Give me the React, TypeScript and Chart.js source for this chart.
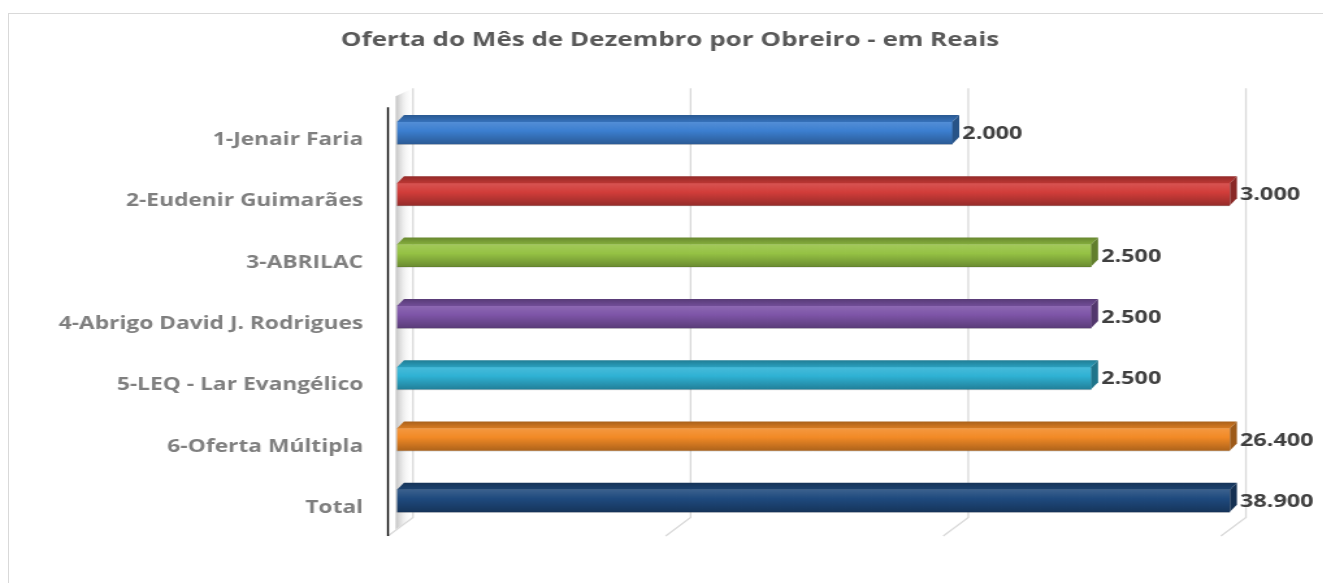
import React, { useEffect, useRef } from 'react';
import { Chart, registerables } from 'chart.js';

Chart.register(...registerables);

const categories = [
  '1-Jenair Faria',
  '2-Eudenir Guimarães',
  '3-ABRILAC',
  '4-Abrigo David J. Rodrigues',
  '5-LEQ - Lar Evangélico',
  '6-Oferta Múltipla',
  'Total',
];
const values = [2000, 3000, 2500, 2500, 2500, 26400, 38900];
const axisTicks = [0, 1000, 2000, 3000];
const barColors = ['#3c7fd0', '#d23d3a', '#95c244', '#7e55a8', '#2fb2d4', '#f28a26', '#1f4a7e'];
const titleText = 'Oferta do Mês de Dezembro por Obreiro - em Reais';

// The reference is a horizontally stretched picture: draw on a narrower bitmap
// and let CSS stretch it to the displayed width.
const CSS_W = 1322;
const CSS_H = 569;
const STRETCH = 1.3;
const BMP_W = Math.round(CSS_W / STRETCH);

const DX = 7 / STRETCH; // 3D depth, horizontal
const DY = 7; // 3D depth, vertical
const FONT = '"Open Sans", "DejaVu Sans", sans-serif';

function shade(hex: string, f: number): string {
  const n = parseInt(hex.slice(1), 16);
  let r = (n >> 16) & 255;
  let g = (n >> 8) & 255;
  let b = n & 255;
  if (f >= 0) {
    r = r + (255 - r) * f;
    g = g + (255 - g) * f;
    b = b + (255 - b) * f;
  } else {
    r = r * (1 + f);
    g = g * (1 + f);
    b = b * (1 + f);
  }
  return `rgb(${Math.round(r)},${Math.round(g)},${Math.round(b)})`;
}

function fmt(v: number): string {
  return String(v).replace(/\B(?=(\d{3})+(?!\d))/g, '.');
}

const bar3d = {
  id: 'bar3d',
  beforeDatasetsDraw(chart: any) {
    const { ctx, chartArea: a } = chart;
    const xs = chart.scales.x;
    const x0 = xs.getPixelForValue(0);
    const back = 16 / STRETCH;
    const front = 9 / STRETCH;
    ctx.save();
    // left wall shading
    const wg = ctx.createLinearGradient(x0 - 1, 0, x0 + back, 0);
    wg.addColorStop(0, 'rgba(170,170,170,0.7)');
    wg.addColorStop(0.55, 'rgba(225,225,225,0.4)');
    wg.addColorStop(1, 'rgba(255,255,255,0)');
    ctx.fillStyle = wg;
    ctx.beginPath();
    ctx.moveTo(x0 - 1, a.top - 6);
    ctx.lineTo(x0 + back, a.top - 14);
    ctx.lineTo(x0 + back, a.bottom - 14);
    ctx.lineTo(x0 - 1, a.bottom - 2);
    ctx.closePath();
    ctx.fill();
    // grid lines (back wall + floor)
    ctx.strokeStyle = '#d9d9d9';
    ctx.lineWidth = 1.3;
    axisTicks.forEach((t) => {
      const xp = xs.getPixelForValue(t);
      ctx.beginPath();
      ctx.moveTo(xp + back, a.top - 14);
      ctx.lineTo(xp + back, a.bottom - 14);
      ctx.lineTo(xp - front, a.bottom + 4.5);
      ctx.stroke();
    });
    // axis line
    ctx.strokeStyle = '#000';
    ctx.lineWidth = 1.4;
    ctx.beginPath();
    ctx.moveTo(x0 - front, a.top + 5);
    ctx.lineTo(x0 - front, a.bottom + 4.5);
    ctx.stroke();
    ctx.restore();
  },
  afterDatasetsDraw(chart: any) {
    const { ctx, chartArea: a } = chart;
    const meta = chart.getDatasetMeta(0);
    const vals = chart.data.datasets[0].data as number[];
    ctx.save();
    meta.data.forEach((bar: any, i: number) => {
      const { x, y, base, height } = bar.getProps(['x', 'y', 'base', 'height'], true);
      if (![x, y, base, height].every((v) => Number.isFinite(v))) return;
      const end = Math.min(x, a.right);
      const top = y - height / 2;
      const bot = y + height / 2;
      const c = barColors[i];
      // top face
      const tg = ctx.createLinearGradient(0, top - DY, 0, top);
      tg.addColorStop(0, shade(c, -0.3));
      tg.addColorStop(1, shade(c, -0.1));
      ctx.fillStyle = tg;
      ctx.beginPath();
      ctx.moveTo(base, top);
      ctx.lineTo(base + DX, top - DY);
      ctx.lineTo(end + DX, top - DY);
      ctx.lineTo(end, top);
      ctx.closePath();
      ctx.fill();
      // side face
      ctx.fillStyle = shade(c, -0.35);
      ctx.beginPath();
      ctx.moveTo(end, top);
      ctx.lineTo(end + DX, top - DY);
      ctx.lineTo(end + DX, bot - DY);
      ctx.lineTo(end, bot);
      ctx.closePath();
      ctx.fill();
      // bottom shadow line
      ctx.strokeStyle = 'rgba(0,0,0,0.15)';
      ctx.lineWidth = 1;
      ctx.beginPath();
      ctx.moveTo(base, bot + 0.5);
      ctx.lineTo(end, bot + 0.5);
      ctx.stroke();
      // value label
      ctx.fillStyle = '#404040';
      ctx.font = `bold 18px ${FONT}`;
      ctx.textAlign = 'left';
      ctx.textBaseline = 'middle';
      ctx.fillText(fmt(vals[i]), end + DX + 3 / STRETCH, y + 1);
    });
    ctx.restore();
  },
};

export default function App() {
  const canvasRef = useRef<HTMLCanvasElement | null>(null);

  useEffect(() => {
    if (!canvasRef.current) return;
    const chart = new Chart(canvasRef.current, {
      type: 'bar',
      data: {
        labels: categories,
        datasets: [
          {
            data: values,
            barThickness: 22,
            backgroundColor: (ctx: any) => {
              const c = barColors[ctx.dataIndex % barColors.length];
              const ys = ctx.chart.scales && ctx.chart.scales.y;
              if (!ys || ctx.type !== 'data') return c;
              const yc = ys.getPixelForValue(ctx.dataIndex);
              if (!Number.isFinite(yc)) return c;
              const g = ctx.chart.ctx.createLinearGradient(0, yc - 11, 0, yc + 11);
              g.addColorStop(0, shade(c, 0.12));
              g.addColorStop(0.4, c);
              g.addColorStop(1, shade(c, -0.28));
              return g;
            },
            borderWidth: 0,
          },
        ],
      },
      options: {
        indexAxis: 'y',
        animation: false,
        responsive: false,
        devicePixelRatio: 1,
        layout: { padding: { left: 0, right: 0, top: 0, bottom: 51.5 } },
        scales: {
          x: {
            display: false,
            min: 0,
            max: 3000,
            ticks: { stepSize: 1000 },
          },
          y: {
            grid: { display: false, drawTicks: false },
            border: { display: false },
            ticks: {
              color: '#7f7f7f',
              font: { family: FONT, size: 17.5, weight: 'bold' },
              padding: 26,
              labelOffset: 7,
            },
            afterFit: (scale: any) => {
              scale.width = 388 / STRETCH;
            },
          },
          yRight: {
            type: 'category',
            axis: 'y',
            position: 'right',
            grid: { display: false, drawTicks: false },
            border: { display: false },
            ticks: { display: false },
            afterFit: (scale: any) => {
              scale.width = BMP_W - 1221 / STRETCH;
            },
          },
        },
        plugins: {
          legend: { display: false },
          tooltip: { enabled: false },
          title: {
            display: true,
            text: titleText,
            color: '#595959',
            font: { family: FONT, size: 20, weight: 'bold', lineHeight: 1.2 },
            padding: { top: 14.5, bottom: 49.85 },
          },
        },
      } as any,
      plugins: [bar3d],
    });
    return () => chart.destroy();
  }, []);

  return (
    <div
      style={{
        width: CSS_W,
        height: CSS_H,
        marginTop: 5,
        borderLeft: '1px solid #d9d9d9',
        borderTop: '1px solid #d9d9d9',
        position: 'relative',
      }}
    >
      <canvas
        ref={canvasRef}
        width={BMP_W}
        height={CSS_H}
        style={{ width: CSS_W, height: CSS_H, display: 'block' }}
      />
    </div>
  );
}
